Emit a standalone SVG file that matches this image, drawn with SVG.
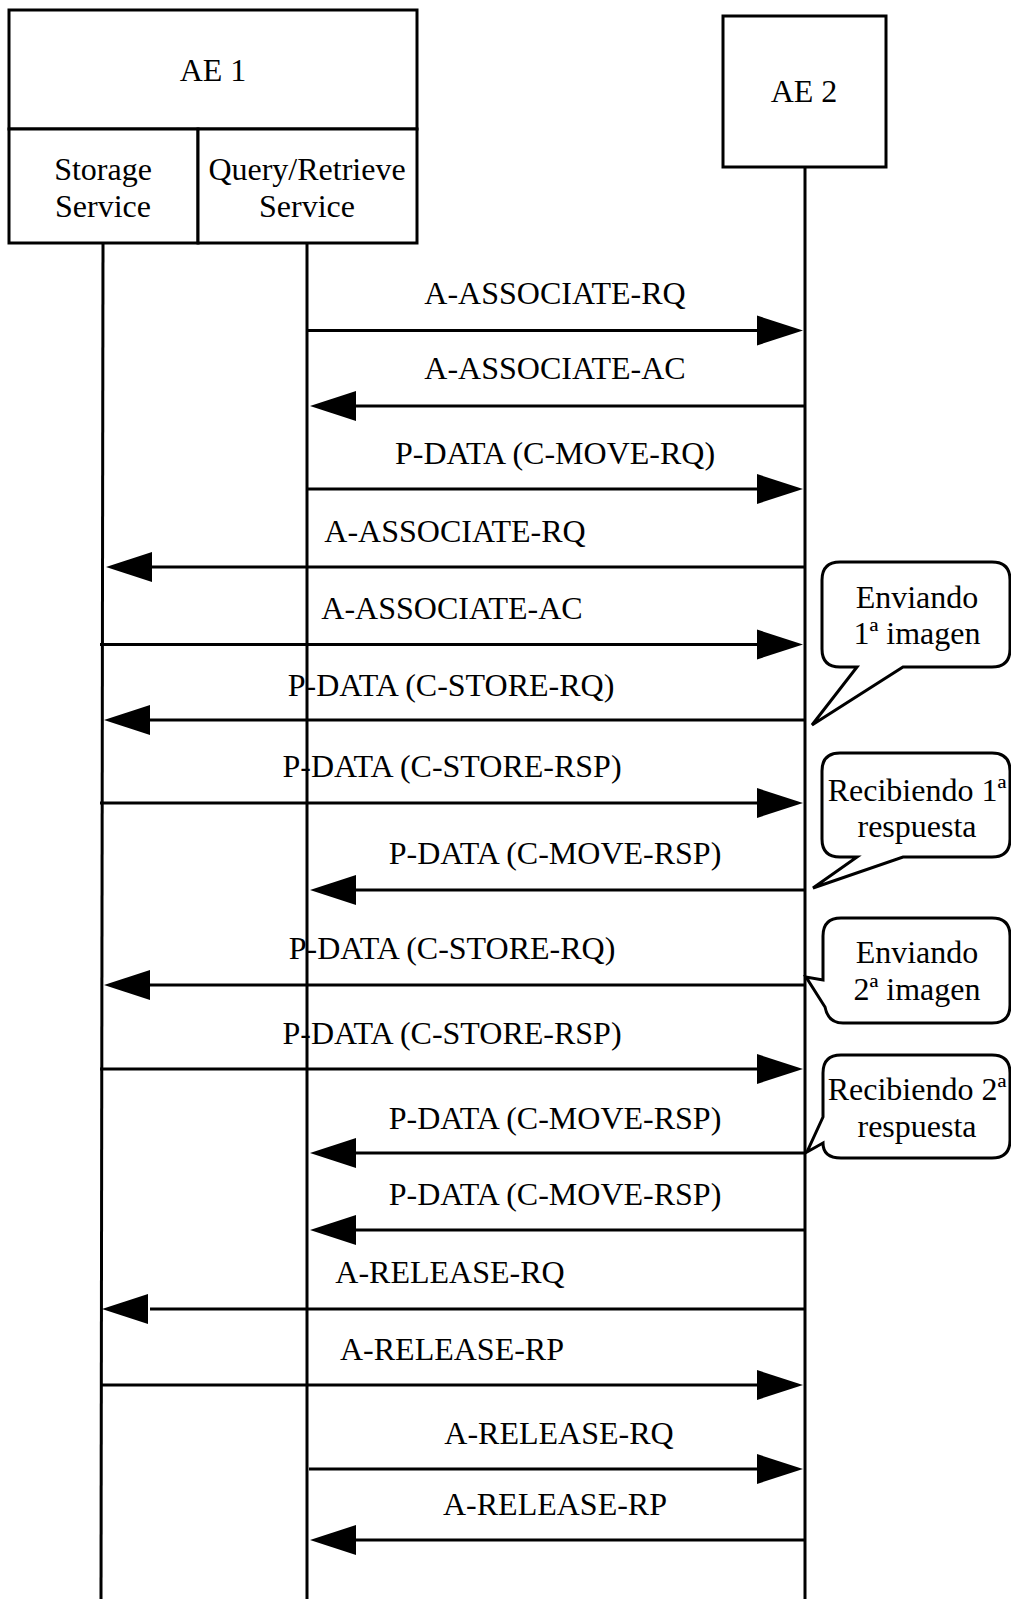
<svg xmlns="http://www.w3.org/2000/svg" width="1011" height="1599" viewBox="0 0 1011 1599">
  <style>
    text { font-family: "Liberation Serif", "Times New Roman", serif; font-size: 32px; fill: #000; text-anchor: middle; }
    .box { fill: #fff; stroke: #000; stroke-width: 3; }
    .life { stroke: #000; stroke-width: 3; fill: none; }
    .msg { stroke: #000; stroke-width: 3; fill: none; }
    .head { fill: #000; stroke: none; }
    .bubble { fill: #fff; stroke: #000; stroke-width: 3; stroke-linejoin: miter; }
  </style>
  <rect width="1011" height="1599" fill="#fff"/>

  <!-- lifelines -->
  <g id="lifelines">
    <line class="life" x1="103" y1="243" x2="101" y2="1599"/>
    <line class="life" x1="307" y1="243" x2="307" y2="1599"/>
    <line class="life" x1="805" y1="167" x2="805" y2="1599"/>
  </g>

  <!-- AE 1 with its two services -->
  <g id="ae1">
    <rect class="box" x="9" y="10" width="408" height="119"/>
    <text x="213" y="81">AE 1</text>
  </g>
  <g id="storage-service">
    <rect class="box" x="9" y="129" width="189" height="114"/>
    <text x="103" y="180">Storage</text>
    <text x="103" y="217">Service</text>
  </g>
  <g id="qr-service">
    <rect class="box" x="198" y="129" width="219" height="114"/>
    <text x="307" y="180">Query/Retrieve</text>
    <text x="307" y="217">Service</text>
  </g>

  <!-- AE 2 -->
  <g id="ae2">
    <rect class="box" x="723" y="16" width="163" height="151"/>
    <text x="804" y="102">AE 2</text>
  </g>

  <!-- messages -->
  <g id="connectors">
    <!-- 1 -->
    <line class="msg" x1="307" y1="330.5" x2="760" y2="330.5"/>
    <polygon class="head" points="803,330.5 757,315.5 757,345.5"/>
    <!-- 2 -->
    <line class="msg" x1="805" y1="406" x2="350" y2="406"/>
    <polygon class="head" points="310,406 356,391 356,421"/>
    <!-- 3 -->
    <line class="msg" x1="307" y1="489" x2="760" y2="489"/>
    <polygon class="head" points="803,489 757,474 757,504"/>
    <!-- 4 -->
    <line class="msg" x1="805" y1="567" x2="150" y2="567"/>
    <polygon class="head" points="106,567 152,552 152,582"/>
    <!-- 5 -->
    <line class="msg" x1="100" y1="644.5" x2="760" y2="644.5"/>
    <polygon class="head" points="803,644.5 757,629.5 757,659.5"/>
    <!-- 6 -->
    <line class="msg" x1="805" y1="720" x2="150" y2="720"/>
    <polygon class="head" points="104,720 150,705 150,735"/>
    <!-- 7 -->
    <line class="msg" x1="100" y1="803" x2="760" y2="803"/>
    <polygon class="head" points="803,803 757,788 757,818"/>
    <!-- 8 -->
    <line class="msg" x1="805" y1="890" x2="350" y2="890"/>
    <polygon class="head" points="310,890 356,875 356,905"/>
    <!-- 9 -->
    <line class="msg" x1="805" y1="985" x2="150" y2="985"/>
    <polygon class="head" points="104,985 150,970 150,1000"/>
    <!-- 10 -->
    <line class="msg" x1="100" y1="1069" x2="760" y2="1069"/>
    <polygon class="head" points="803,1069 757,1054 757,1084"/>
    <!-- 11 -->
    <line class="msg" x1="805" y1="1153" x2="350" y2="1153"/>
    <polygon class="head" points="310,1153 356,1138 356,1168"/>
    <!-- 12 -->
    <line class="msg" x1="805" y1="1230" x2="350" y2="1230"/>
    <polygon class="head" points="310,1230 356,1215 356,1245"/>
    <!-- 13 -->
    <line class="msg" x1="805" y1="1309" x2="150" y2="1309"/>
    <polygon class="head" points="102,1309 148,1294 148,1324"/>
    <!-- 14 -->
    <line class="msg" x1="100" y1="1385" x2="760" y2="1385"/>
    <polygon class="head" points="803,1385 757,1370 757,1400"/>
    <!-- 15 -->
    <line class="msg" x1="309" y1="1469" x2="760" y2="1469"/>
    <polygon class="head" points="803,1469 757,1454 757,1484"/>
    <!-- 16 -->
    <line class="msg" x1="805" y1="1540" x2="350" y2="1540"/>
    <polygon class="head" points="310,1540 356,1525 356,1555"/>
  </g>

  <!-- message labels -->
  <g id="labels">
    <text x="555" y="304">A-ASSOCIATE-RQ</text>
    <text x="555" y="379">A-ASSOCIATE-AC</text>
    <text x="555" y="464">P-DATA (C-MOVE-RQ)</text>
    <text x="455" y="542">A-ASSOCIATE-RQ</text>
    <text x="452" y="619">A-ASSOCIATE-AC</text>
    <text x="451" y="696">P-DATA (C-STORE-RQ)</text>
    <text x="452" y="777">P-DATA (C-STORE-RSP)</text>
    <text x="555" y="864">P-DATA (C-MOVE-RSP)</text>
    <text x="452" y="959">P-DATA (C-STORE-RQ)</text>
    <text x="452" y="1044">P-DATA (C-STORE-RSP)</text>
    <text x="555" y="1129">P-DATA (C-MOVE-RSP)</text>
    <text x="555" y="1205">P-DATA (C-MOVE-RSP)</text>
    <text x="450" y="1283">A-RELEASE-RQ</text>
    <text x="452" y="1360">A-RELEASE-RP</text>
    <text x="559" y="1444">A-RELEASE-RQ</text>
    <text x="555" y="1515">A-RELEASE-RP</text>
  </g>

  <!-- callouts -->
  <g id="note-send-1">
    <path class="bubble" d="M840,562 H992 Q1010,562 1010,580 V649 Q1010,667 992,667 H903 L812,725 L857,667 H840 Q822,667 822,649 V580 Q822,562 840,562 Z"/>
    <text x="917" y="608">Enviando</text>
    <text x="917" y="644">1ª imagen</text>
  </g>
  <g id="note-recv-1">
    <path class="bubble" d="M840,753 H992 Q1010,753 1010,771 V839 Q1010,857 992,857 H903 L813,888 L857,857 H840 Q822,857 822,839 V771 Q822,753 840,753 Z"/>
    <text x="917" y="801">Recibiendo 1ª</text>
    <text x="917" y="837">respuesta</text>
  </g>
  <g id="note-send-2">
    <path class="bubble" d="M841,918 H992 Q1010,918 1010,936 V1005 Q1010,1023 992,1023 H843 Q828,1023 825,1007 L806,977 L823,980 V936 Q823,918 841,918 Z"/>
    <text x="917" y="963">Enviando</text>
    <text x="917" y="1000">2ª imagen</text>
  </g>
  <g id="note-recv-2">
    <path class="bubble" d="M841,1055 H992 Q1010,1055 1010,1073 V1140 Q1010,1158 992,1158 H841 Q823,1158 823,1143 L807,1152 L823,1117 V1073 Q823,1055 841,1055 Z"/>
    <text x="917" y="1100">Recibiendo 2ª</text>
    <text x="917" y="1137">respuesta</text>
  </g>
</svg>
